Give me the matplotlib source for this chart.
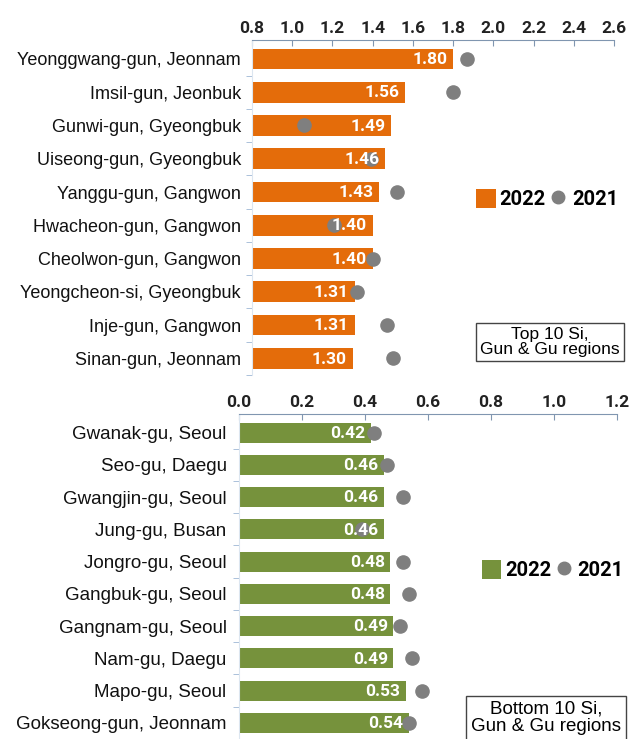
import matplotlib
matplotlib.use("Agg")
import matplotlib.pyplot as plt
from matplotlib.patches import Patch
from matplotlib.lines import Line2D

top_regions = ["Yeonggwang-gun, Jeonnam", "Imsil-gun, Jeonbuk", "Gunwi-gun, Gyeongbuk",
               "Uiseong-gun, Gyeongbuk", "Yanggu-gun, Gangwon", "Hwacheon-gun, Gangwon",
               "Cheolwon-gun, Gangwon", "Yeongcheon-si, Gyeongbuk", "Inje-gun, Gangwon",
               "Sinan-gun, Jeonnam"]
top_2022 = [1.80, 1.56, 1.49, 1.46, 1.43, 1.40, 1.40, 1.31, 1.31, 1.30]
top_2021 = [1.87, 1.80, 1.06, 1.39, 1.52, 1.21, 1.40, 1.32, 1.47, 1.50]

bottom_regions = ["Gwanak-gu, Seoul", "Seo-gu, Daegu", "Gwangjin-gu, Seoul", "Jung-gu, Busan",
                  "Jongro-gu, Seoul", "Gangbuk-gu, Seoul", "Gangnam-gu, Seoul", "Nam-gu, Daegu",
                  "Mapo-gu, Seoul", "Gokseong-gun, Jeonnam"]
bottom_2022 = [0.42, 0.46, 0.46, 0.46, 0.48, 0.48, 0.49, 0.49, 0.53, 0.54]
bottom_2021 = [0.43, 0.47, 0.52, 0.39, 0.52, 0.54, 0.51, 0.55, 0.58, 0.54]

ORANGE = "#E46C0A"
GREEN = "#76923C"
GREY = "#7F7F7F"
AXIS_C = "#8096B0"
NUM_FONT = "Roboto"
LAB_FONT = "Liberation Sans"

fig = plt.figure(figsize=(6.37, 7.39), dpi=100)
fig.patch.set_facecolor("white")


def draw_panel(ax, regions, v22, v21, color, base, xlim, xticks, ylim, title,
               leg_anchor, box_pos, pad, lab_size, box_size):
    y = list(range(len(regions)))
    ax.barh(y, [v - base for v in v22], height=0.62, color=color, left=base, zorder=2)
    ax.scatter(v21, y, s=90, color=GREY, zorder=3)
    for yi, v in zip(y, v22):
        ax.annotate(f"{v:.2f}", (v, yi), xytext=(-4, -0.5), textcoords="offset points",
                    ha="right", va="center", color="white", fontsize=12.5,
                    fontweight="bold", family=NUM_FONT, zorder=4)
    ax.set_xlim(*xlim)
    ax.set_ylim(*ylim)
    ax.set_xticks(xticks)
    ax.set_xticklabels([f"{t:.1f}" for t in xticks], fontsize=12.5, fontweight="bold",
                       family=NUM_FONT, color="#222222")
    ax.xaxis.tick_top()
    ax.tick_params(axis="x", direction="in", length=4, color=AXIS_C, pad=3)
    ax.set_yticks(y)
    ax.set_yticklabels(regions, fontsize=lab_size, family=LAB_FONT, color="#111111")
    ax.set_yticks([i + 0.5 for i in y], minor=True)
    ax.tick_params(axis="y", which="major", length=0, pad=pad)
    ax.tick_params(axis="y", which="minor", length=4, color="#9DB7D5", direction="out")
    for s in ["right", "bottom"]:
        ax.spines[s].set_visible(False)
    ax.spines["top"].set_color(AXIS_C)
    ax.spines["left"].set_color("#DCE6F0")
    ax.set_facecolor("none")

    handles = [Patch(facecolor=color, edgecolor="none"),
               Line2D([], [], marker="o", linestyle="none", color=GREY, markersize=9)]
    ax.legend(handles, ["2022", "2021"], loc="center left", bbox_to_anchor=leg_anchor,
              ncol=2, frameon=False, handlelength=0.95, handleheight=1.1,
              handletextpad=0.2, columnspacing=0.15, borderpad=0, borderaxespad=0,
              prop={"family": NUM_FONT, "weight": "bold", "size": 14.5})
    ax.text(box_pos[0], box_pos[1], title, transform=ax.transAxes, ha="center", va="center",
            fontsize=box_size, family=LAB_FONT, linespacing=1.0,
            bbox=dict(boxstyle="square,pad=0.25", facecolor="white", edgecolor="#444444", lw=1))


ax1 = fig.add_axes([0.3956, 0.4926, 0.5684, 0.4533])
draw_panel(ax1, top_regions, top_2022, top_2021, ORANGE, 0.8, (0.8, 2.6),
           [0.8, 1.0, 1.2, 1.4, 1.6, 1.8, 2.0, 2.2, 2.4, 2.6], (9.49, -0.57),
           "Top 10 Si,\nGun & Gu regions", (0.62, 0.525), (0.823, 0.098), 8, 13, 12.5)

ax2 = fig.add_axes([0.3752, 0.0, 0.5934, 0.4398])
draw_panel(ax2, bottom_regions, bottom_2022, bottom_2021, GREEN, 0.0, (0.0, 1.2),
           [0.0, 0.2, 0.4, 0.6, 0.8, 1.0, 1.2], (9.27, -0.576),
           "Bottom 10 Si,\nGun & Gu regions", (0.643, 0.52), (0.812, 0.065), 9, 13.5, 13.5)

fig.savefig("out.png", dpi=100, facecolor="white")
